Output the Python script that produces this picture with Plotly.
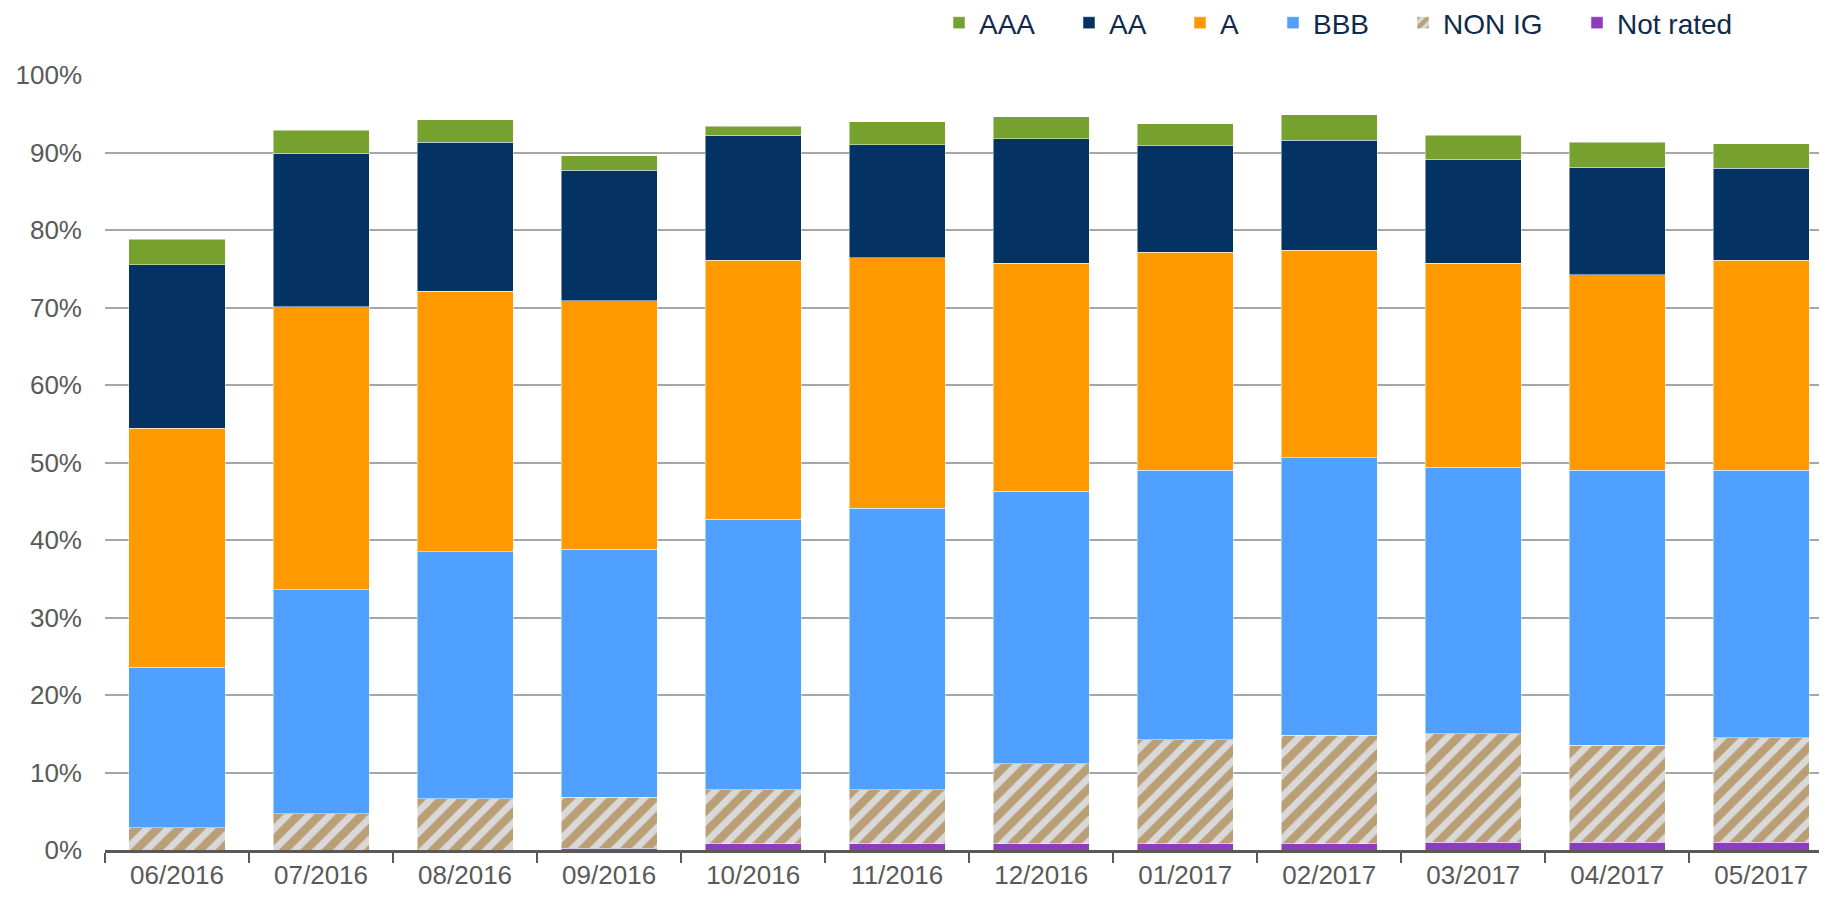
import plotly.graph_objects as go

months = ["06/2016", "07/2016", "08/2016", "09/2016", "10/2016", "11/2016",
          "12/2016", "01/2017", "02/2017", "03/2017", "04/2017", "05/2017"]

not_rated = [0, 0, 0, 0.2, 0.8, 0.8, 0.8, 0.8, 0.8, 1.0, 1.0, 1.0]
non_ig = [2.9, 4.7, 6.6, 6.6, 7.0, 7.0, 10.3, 13.4, 14.0, 14.0, 12.5, 13.5]
bbb = [20.7, 28.9, 31.9, 32.0, 34.9, 36.3, 35.2, 34.8, 35.8, 34.4, 35.5, 34.5]
a = [30.8, 36.5, 33.6, 32.1, 33.4, 32.3, 29.4, 28.1, 26.8, 26.3, 25.2, 27.1]
aa = [21.1, 19.8, 19.2, 16.8, 16.1, 14.6, 16.1, 13.8, 14.2, 13.4, 13.9, 11.9]
aaa = [3.3, 3.0, 2.9, 1.9, 1.2, 3.0, 2.8, 2.8, 3.3, 3.1, 3.2, 3.1]

# page body has an 8px default margin: size the figure so the plot lands
# where it sits in the 1827x900 reference, without causing scrollbars
OFF = 8
W, H = 1827 - OFF, 900 - 2 * OFF
ML, MR, MT = 105 - OFF, 0, 75 - OFF
MB = H - (850 - OFF)
PW = W - ML - MR

edge = dict(width=0.8, color="rgba(255,255,255,0.6)")

# (name, values, color, pattern, legend id, swatch left px in page)
series = [
    ("Not rated", not_rated, "#8B3DBE", None, "legend6", 1591),
    ("NON IG", non_ig, "#D9D9D9", dict(shape="/", fgcolor="#9A6414", bgcolor="#D9D9D9",
                                       size=15, solidity=0.55), "legend5", 1417),
    ("BBB", bbb, "#50A0FF", None, "legend4", 1287),
    ("A", a, "#FF9900", None, "legend3", 1194),
    ("AA", aa, "#043263", None, "legend2", 1083),
    ("AAA", aaa, "#76A12E", None, "legend", 953),
]

fig = go.Figure()
layout_legends = {}
for name, vals, color, pat, lg, sx in series:
    marker = dict(color=color, line=edge)
    if pat:
        marker["pattern"] = pat
    fig.add_trace(go.Bar(x=months, y=vals, name=name, marker=marker,
                         legend=lg, showlegend=True))
    layout_legends[lg] = dict(
        x=(sx - OFF - 14 - ML) / PW, xanchor="left",
        y=1 + (MT - (23 - OFF)) / (H - MT - MB), yanchor="middle",
        orientation="h", bgcolor="rgba(0,0,0,0)", borderwidth=0,
        font=dict(size=28, color="#0F2A4A", family="Liberation Sans, Arial"),
        itemwidth=30,
    )

fig.update_layout(
    width=W, height=H,
    margin=dict(l=ML, r=MR, t=MT, b=MB, autoexpand=False),
    barmode="stack", bargap=0.333,
    plot_bgcolor="white", paper_bgcolor="white",
    font=dict(family="Liberation Sans, Arial", size=26, color="#595959"),
    **layout_legends,
)
fig.update_xaxes(
    type="category", range=[-0.5, len(months) - 0.544],
    showgrid=False, showline=True, linecolor="#595959", linewidth=3,
    ticks="outside", tickson="boundaries", ticklen=10, tickwidth=2, tickcolor="#595959",
    tickfont=dict(size=26, color="#595959"),
)
fig.update_yaxes(
    range=[0, 100], dtick=10, ticksuffix="%", showgrid=True, gridcolor="#A6A6A6",
    gridwidth=1.5, zeroline=False, showline=False, ticks="",
    tickfont=dict(size=26, color="#595959"), ticklabelstandoff=22,
)

fig.write_html("out.html")
